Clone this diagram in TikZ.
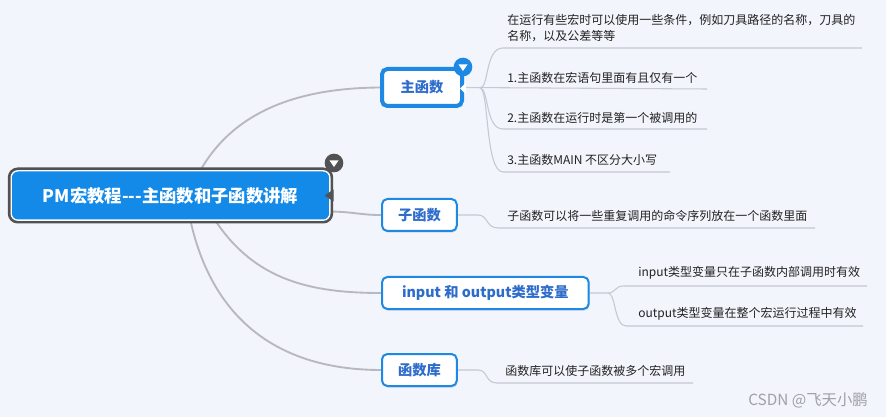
\documentclass[tikz,border=0pt]{standalone}
\usepackage{fontspec}
\setmainfont{Noto Sans CJK SC}
\usetikzlibrary{positioning, shadows, backgrounds, calc}

\definecolor{bgpaper}{RGB}{243,245,252}
\definecolor{rootblue}{RGB}{19,137,232}
\definecolor{rootgray}{RGB}{82,82,84}
\definecolor{topicblue}{RGB}{30,136,229}
\definecolor{topictext}{RGB}{46,108,204}
\definecolor{edgegray}{RGB}{184,184,190}
\definecolor{leafline}{RGB}{198,200,210}
\definecolor{leaftext}{RGB}{34,34,34}
\definecolor{marktext}{RGB}{160,160,165}

\tikzset{
  rootbox/.style={draw=white, line width=1pt, fill=rootblue, rounded corners=5pt,
    text=white, font=\bfseries\fontsize{13}{15}\selectfont,
    minimum width=239pt, minimum height=37pt,
    preaction={draw=rootgray, line width=5pt}},
  topic/.style={draw=topicblue, line width=1.5pt, fill=white, rounded corners=4pt,
    text=topictext, font=\bfseries\fontsize{10.7}{12}\selectfont,
    minimum height=24pt, inner xsep=12pt, anchor=west,
    drop shadow={opacity=0.25, shadow xshift=0.6pt, shadow yshift=-1.2pt}},
  maintopic/.style={topic, line width=3pt, minimum height=27.75pt, minimum width=60pt},
  leaf/.style={anchor=west, inner sep=0pt, text=leaftext,
    font=\fontsize{9}{12}\selectfont, align=left},
  edge/.style={draw=edgegray, line width=1.4pt},
  twig/.style={draw=leafline, line width=0.8pt},
  fold/.style={circle, inner sep=0pt, minimum size=14pt}
}

\begin{document}
\begin{tikzpicture}[x=0.75pt, y=-0.75pt]
  \useasboundingbox (0,0) rectangle (886,417);

  % central topic
  \node[rootbox] (root) at (170.5,195.5) {PM宏教程-{}-{}-主函数和子函数讲解};
  \fill[rootgray] ($(root.east)+(3,-6)$) -- ($(root.east)+(-6,0)$) -- ($(root.east)+(3,6)$) -- cycle;
  \node[fold, fill=rootgray] (rootfold) at (334,163) {};
  \fill[white] ($(rootfold)+(-4.5,-2.5)$) -- ($(rootfold)+(4.5,-2.5)$) -- ($(rootfold)+(0,4)$) -- cycle;

  % main topics
  \node[maintopic] (main) at (380,87.5) {主函数};
  \fill[white] ($(main.east)+(2,-5)$) -- ($(main.east)+(-4,1)$) -- ($(main.east)+(2,7)$) -- cycle;
  \node[fold, fill=topicblue] (mainfold) at (463,67) {};
  \fill[white] ($(mainfold)+(-4.5,-2.5)$) -- ($(mainfold)+(4.5,-2.5)$) -- ($(mainfold)+(0,4)$) -- cycle;
  \node[topic] (sub) at (381,215) {子函数};
  \node[topic, inner xsep=15pt] (inout) at (381,293) {input 和 output类型变量};
  \node[topic] (lib) at (381,370) {函数库};

  % leaves
  \node[leaf] (m1) at (507,28) {在运行有些宏时可以使用一些条件，例如刀具路径的名称，刀具的\\名称，以及公差等等};
  \node[leaf] (m2) at (507,78) {1.主函数在宏语句里面有且仅有一个};
  \node[leaf] (m3) at (507,118) {2.主函数在运行时是第一个被调用的};
  \node[leaf] (m4) at (507,160) {3.主函数MAIN 不区分大小写};
  \node[leaf] (s1) at (507,216) {子函数可以将一些重复调用的命令序列放在一个函数里面};
  \node[leaf] (i1) at (638,273) {input类型变量只在子函数内部调用时有效};
  \node[leaf] (i2) at (638,314) {output类型变量在整个宏运行过程中有效};
  \node[leaf] (l1) at (505,371) {函数库可以使子函数被多个宏调用};

  \node[text=marktext, font=\fontsize{11.5}{13}\selectfont, anchor=east, inner sep=0pt] (mark) at (868,400) {CSDN @飞天小鹏};

  \coordinate (mfork) at (480,88);
  \coordinate (m1end) at (862,48);
  \coordinate (m2end) at (707,89);
  \coordinate (m3end) at (707,129);
  \coordinate (m4end) at (670,172);
  \coordinate (sfork) at (478,215);
  \coordinate (s1end) at (815,228);
  \coordinate (ifork) at (608,293);
  \coordinate (i1end) at (867,286);
  \coordinate (i2end) at (863,326);
  \coordinate (lfork) at (478,370);
  \coordinate (l1end) at (693,383);

  \begin{scope}[on background layer]
    \fill[bgpaper] (0,0) rectangle (886,417);
    % connectors from the central topic
    \draw[edge] ($(root.north)+(30,0)$) .. controls (235,110) and (300,88) .. (main.west);
    \draw[edge] ($(root.east)+(0,16)$) .. controls (355,212) and (360,215) .. (sub.west);
    \draw[edge] ($(root.south)+(45,0)$) .. controls (255,280) and (310,293) .. (inout.west);
    \draw[edge] ($(root.south)+(20,0)$) .. controls (215,330) and (290,370) .. (lib.west);
    % twigs to the leaves
    \draw[twig] (main.east) -- (m2end);
    \draw[twig] (mfork) .. controls +(9,0) and +(-18,0) .. (503,48) -- (m1end);
    \draw[twig] (mfork) .. controls +(9,0) and +(-18,0) .. (503,129) -- (m3end);
    \draw[twig] (mfork) .. controls +(9,0) and +(-18,0) .. (503,172) -- (m4end);
    \draw[twig] (sub.east) -- (sfork) .. controls +(10,0) and +(-12,0) .. (498,228) -- (s1end);
    \draw[twig] (inout.east) -- (ifork) .. controls +(8,0) and +(-10,0) .. (624,286) -- (i1end);
    \draw[twig] (ifork) .. controls +(8,0) and +(-12,0) .. (626,326) -- (i2end);
    \draw[twig] (lib.east) -- (lfork) .. controls +(10,0) and +(-12,0) .. (497,383) -- (l1end);
  \end{scope}
\end{tikzpicture}
\end{document}
